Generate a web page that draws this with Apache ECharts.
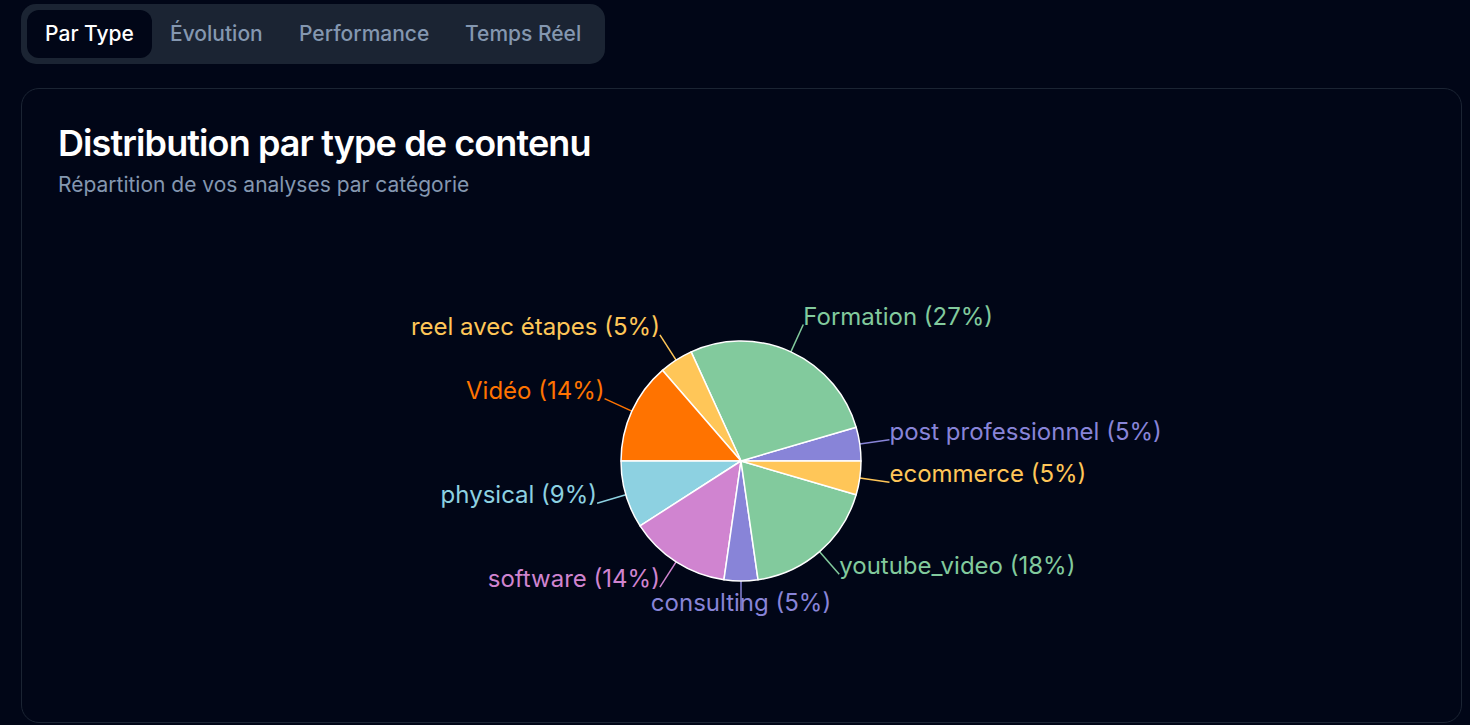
<!DOCTYPE html>
<html lang="fr">
<head>
<meta charset="utf-8">
<title>Distribution par type de contenu</title>
<script src="https://cdn.jsdelivr.net/npm/echarts@6/dist/echarts.min.js"></script>
<style>
  html, body { margin: 0; height: 100%; background: #010617; overflow: hidden; font-family: Inter, sans-serif; }
  #main { position: absolute; left: 0; top: 0; width: 1470px; height: 725px; }
  #tabs { position: absolute; left: 21px; top: 4px; width: 584px; height: 60px; background: #1b2433; border-radius: 15px; }
  #tabs span { position: absolute; top: 6px; height: 48px; line-height: 48px; font-size: 21px; font-weight: 500; color: #8497b0; white-space: nowrap; }
  #tabs span.active { left: 6px; width: 125px; background: #010617; color: #fff; border-radius: 12px; text-align: center; }
  #card { position: absolute; left: 21px; top: 88px; width: 1439px; height: 633px; border: 1px solid #1b2433; border-radius: 18px; pointer-events: none; }
  #card h3 { position: absolute; left: 36px; top: 33px; margin: 0; font-size: 36px; line-height: 42px; font-weight: 600; letter-spacing: -0.9px; color: #fff; white-space: nowrap; }
  #card p { position: absolute; left: 36px; top: 81px; margin: 0; font-size: 21px; line-height: 30px; color: #8497b0; white-space: nowrap; }
</style>
</head>
<body>
<div id="main"></div>
<div id="tabs">
  <span class="active">Par Type</span>
  <span style="left:149px">Évolution</span>
  <span style="left:278px">Performance</span>
  <span style="left:444px">Temps Réel</span>
</div>
<div id="card">
  <h3>Distribution par type de contenu</h3>
  <p>Répartition de vos analyses par catégorie</p>
</div>
<script>
const categories = ['post professionnel', 'Formation', 'reel avec étapes', 'Vidéo', 'physical', 'software', 'consulting', 'youtube_video', 'ecommerce'];
const counts = [1, 6, 1, 3, 2, 3, 1, 4, 1];
const colors = ['#8884d8', '#82ca9d', '#ffc658', '#ff7300', '#8dd1e1', '#d084d0', '#8884d8', '#82ca9d', '#ffc658'];

var myChart = echarts.init(document.getElementById('main'), null, { renderer: 'svg' });

var option = {
    backgroundColor: '#010617',
    animation: false,
    series: [
        {
            type: 'pie',
            center: [741, 461],
            radius: [0, 120],
            startAngle: 0,
            clockwise: false,
            avoidLabelOverlap: false,
            itemStyle: { borderColor: '#ffffff', borderWidth: 1.5 },
            emphasis: { disabled: true },
            label: {
                fontFamily: 'Inter',
                fontSize: 24,
                distanceToLabelLine: 0,
                formatter: function (p) {
                    return p.name + ' (' + Math.round(p.percent) + '%)';
                }
            },
            labelLine: { length: 30, length2: 0, smooth: false, lineStyle: { width: 1.5 } },
            labelLayout: function (p) {
                // baseline of the text sits on the end of the line
                var layout = { dy: -8.5 };
                if (categories[p.dataIndex] === 'consulting') {
                    // straight down: text is centred under the slice
                    layout.align = 'center';
                }
                return layout;
            },
            data: categories.map(function (name, i) {
                return {
                    name: name,
                    value: counts[i],
                    itemStyle: { color: colors[i] },
                    label: { color: colors[i] },
                    labelLine: { lineStyle: { color: colors[i] } }
                };
            })
        }
    ]
};

option && myChart.setOption(option);
</script>
</body>
</html>
